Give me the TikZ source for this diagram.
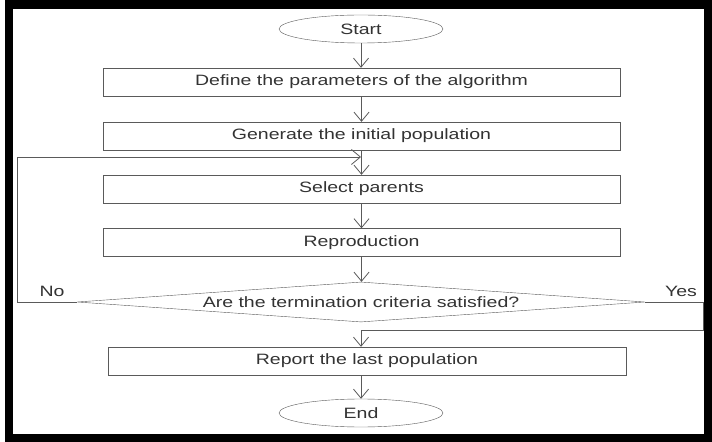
\documentclass[tikz,border=0pt]{standalone}
\usepackage{fontspec}
\setmainfont{Liberation Sans}[FakeStretch=1.3]
\usetikzlibrary{shapes.geometric,arrows.meta}
\definecolor{linegray}{HTML}{5A5A5A}
\definecolor{textgray}{HTML}{333333}
\begin{document}
\begin{tikzpicture}[x=1bp, y=-1bp,
    every node/.style={text=textgray, font=\fontsize{15bp}{18bp}\selectfont},
    terminal/.style={draw=linegray, ellipse, minimum width=164bp, minimum height=28bp, inner sep=0pt},
    stepbox/.style={draw=linegray, rectangle, minimum width=517bp, minimum height=28bp, inner sep=0pt},
    decision/.style={draw=linegray, diamond, aspect=14.2, minimum width=568bp, minimum height=40bp, inner sep=0pt},
    flow/.style={draw=linegray, line width=0.8bp, -{Straight Barb[length=9bp, width=15bp]}},
    line/.style={draw=linegray, line width=0.8bp}]
	\useasboundingbox (0, 0) rectangle (712, 442);
	\fill[black] (5, 0) rectangle (712, 442);
	\fill[white] (13, 9) rectangle (704, 434);
	\node[terminal] (start) at (361, 29) {Start};
	\node[stepbox] (define) at (361.5, 82) {Define the parameters of the algorithm};
	\node[stepbox] (generate) at (361.5, 136) {Generate the initial population};
	\node[stepbox] (select) at (361.5, 189) {Select parents};
	\node[stepbox] (repro) at (361.5, 242.5) {Reproduction};
	\node[decision] (test) at (361, 302) {Are the termination criteria satisfied?};
	\node[stepbox, minimum width=518bp] (report) at (367, 361) {Report the last population};
	\node[terminal] (finish) at (361, 413) {End};
	\node (no) at (52, 291) {No};
	\node (yes) at (681, 291) {Yes};
	\coordinate (noleft) at (17, 157);
	\coordinate (loopin) at (361, 157);
	\coordinate (yesright) at (703, 330);
	\coordinate (yesjoin) at (361, 330);
	\draw[flow] (start) -- (start |- define.north);
	\draw[flow] (define) -- (define |- generate.north);
	\draw[flow] (generate) -- (generate |- select.north);
	\draw[flow] (select) -- (select |- repro.north);
	\draw[flow] (repro) -- (repro |- test.north);
	\draw[flow] (test.west) -| (noleft) -- (loopin);
	\draw[flow] (test.east) -| (yesright) -- (yesjoin) -- (yesjoin |- report.north);
	\draw[flow] (yesjoin |- report.south) -- (finish);
\end{tikzpicture}
\end{document}
